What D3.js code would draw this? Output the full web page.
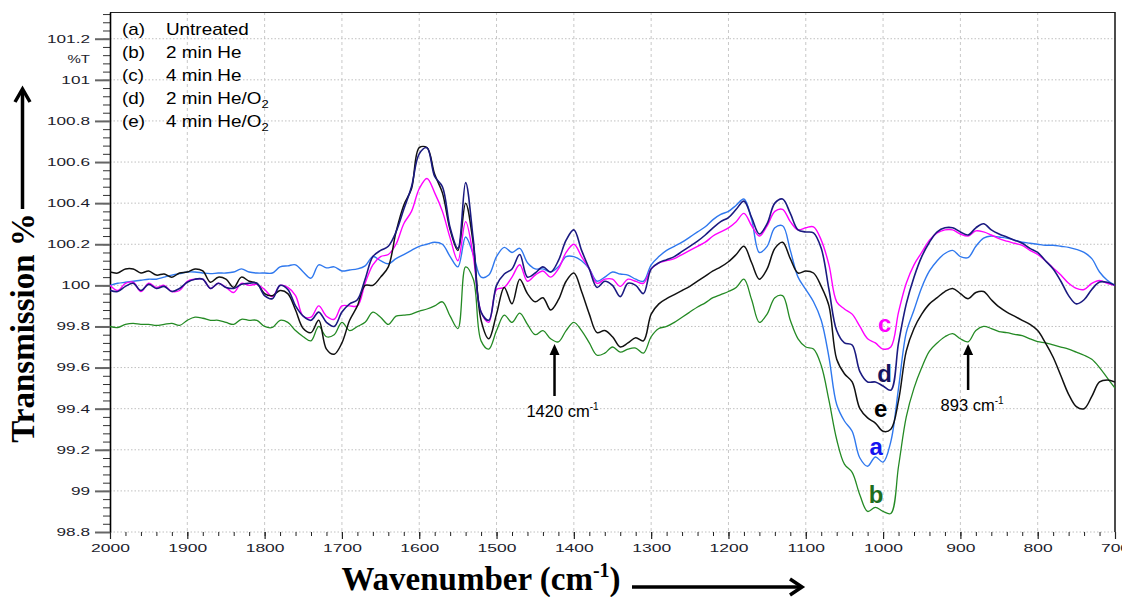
<!DOCTYPE html>
<html><head><meta charset="utf-8">
<script src="https://cdn.jsdelivr.net/npm/d3@7"></script>
<style>body{margin:0;background:#fff}svg{display:block}</style>
</head><body><svg id="c" width="1122" height="597"></svg>
<script>
// ---------- DATA ----------
const wavenumbers = [2000,1990,1980,1970,1960,1950,1940,1930,1920,1910,
1900,1890,1880,1870,1860,1850,1840,1830,1820,1810,
1800,1790,1780,1770,1760,1750,1740,1730,1720,1710,
1700,1690,1680,1670,1660,1650,1640,1630,1620,1610,
1600,1590,1580,1570,1560,1550,1540,1530,1520,1510,
1500,1490,1480,1470,1460,1450,1440,1430,1420,1410,
1400,1390,1380,1370,1360,1350,1340,1330,1320,1310,
1300,1290,1280,1270,1260,1250,1240,1230,1220,1210,
1200,1190,1180,1170,1160,1150,1140,1130,1120,1110,
1100,1090,1080,1070,1060,1050,1040,1030,1020,1010,
1000,990,980,970,960,950,940,930,920,910,
900,890,880,870,860,850,840,830,820,810,
800,790,780,770,760,750,740,730,720,710,700];

// (a) Untreated
const seriesA = [100.0,100.01,100.015,100.02,100.025,100.03,100.03,100.04,100.05,100.057,
100.065,100.065,100.06,100.057,100.06,100.06,100.065,100.08,100.065,100.06,
100.06,100.06,100.09,100.095,100.1,100.065,100.035,100.1,100.085,100.09,
100.07,100.075,100.08,100.095,100.14,100.12,100.105,100.13,100.15,100.17,
100.19,100.2,100.21,100.2,100.14,100.09,100.235,100.15,100.04,100.05,
100.14,100.185,100.16,100.18,100.11,100.08,100.08,100.065,100.09,100.14,
100.14,100.12,100.08,100.02,100.04,100.065,100.055,100.05,100.03,100.02,
100.1,100.14,100.17,100.19,100.21,100.235,100.26,100.285,100.32,100.345,
100.36,100.39,100.42,100.32,100.16,100.19,100.28,100.29,100.17,100.04,
99.98,99.92,99.83,99.65,99.42,99.34,99.29,99.16,99.12,99.165,
99.14,99.24,99.5,99.77,99.88,99.99,100.07,100.12,100.155,100.17,
100.14,100.135,100.19,100.23,100.24,100.235,100.23,100.22,100.21,100.205,
100.2,100.195,100.195,100.19,100.185,100.175,100.16,100.13,100.065,100.025,100.0];

// (b) 2 min He
const seriesB = [99.80,99.795,99.81,99.815,99.81,99.81,99.805,99.81,99.815,99.805,
99.83,99.845,99.84,99.83,99.83,99.82,99.81,99.835,99.83,99.83,
99.80,99.795,99.83,99.82,99.78,99.75,99.73,99.80,99.75,99.76,
99.82,99.78,99.80,99.82,99.87,99.845,99.81,99.85,99.855,99.86,
99.875,99.885,99.90,99.92,99.85,99.79,100.09,100.03,99.73,99.69,
99.78,99.855,99.82,99.865,99.81,99.76,99.78,99.74,99.725,99.78,
99.82,99.78,99.72,99.66,99.67,99.70,99.675,99.69,99.695,99.67,
99.75,99.79,99.80,99.82,99.845,99.87,99.895,99.915,99.94,99.955,
99.97,99.99,100.03,99.93,99.82,99.86,99.94,99.95,99.83,99.74,
99.70,99.69,99.61,99.44,99.25,99.13,99.09,98.98,98.90,98.92,
98.90,98.89,99.12,99.36,99.50,99.60,99.68,99.72,99.75,99.765,
99.74,99.725,99.78,99.80,99.79,99.775,99.77,99.762,99.755,99.74,
99.726,99.72,99.71,99.70,99.69,99.675,99.66,99.64,99.60,99.55,99.50];

// (c) 4 min He
const seriesC = [100.0,99.975,100.01,100.015,99.97,100.01,99.99,100.0,99.97,99.975,
100.02,100.03,100.03,99.985,100.01,99.99,99.965,100.01,100.0,100.005,
99.98,99.945,100.0,99.99,99.95,99.85,99.845,99.9,99.85,99.835,
99.9,99.9,99.9,100.01,100.1,100.14,100.15,100.2,100.3,100.36,
100.47,100.52,100.45,100.36,100.23,100.12,100.31,100.14,99.87,99.82,
99.98,99.99,100.04,100.1,100.02,100.05,100.07,100.04,100.08,100.16,
100.2,100.14,100.08,100.01,100.03,100.03,99.995,100.03,100.02,100.01,
100.08,100.11,100.12,100.13,100.15,100.17,100.19,100.21,100.24,100.26,
100.28,100.31,100.35,100.29,100.24,100.29,100.36,100.37,100.31,100.27,
100.28,100.285,100.22,100.1,99.92,99.885,99.86,99.8,99.74,99.72,
99.69,99.70,99.87,100.01,100.1,100.16,100.22,100.255,100.27,100.27,
100.25,100.24,100.265,100.26,100.245,100.227,100.215,100.205,100.195,100.17,
100.15,100.12,100.085,100.05,100.01,99.985,99.98,100.01,100.024,100.01,100.0];

// (d) 2 min He/O2
const seriesD = [99.976,99.97,99.995,100.01,99.975,100.005,99.985,99.995,99.97,99.985,
100.015,100.03,100.03,99.985,100.01,99.99,99.985,100.005,100.01,100.01,
99.95,99.935,100.0,99.98,99.9,99.85,99.83,99.87,99.82,99.80,
99.87,99.91,99.93,100.03,100.14,100.17,100.19,100.26,100.37,100.48,
100.64,100.67,100.53,100.48,100.28,100.18,100.5,100.22,99.87,99.83,
100.0,100.055,100.08,100.15,100.04,100.06,100.09,100.065,100.12,100.22,
100.27,100.17,100.08,99.99,100.02,100.0,99.945,100.01,100.0,99.96,
100.08,100.11,100.125,100.14,100.165,100.19,100.215,100.245,100.28,100.31,
100.33,100.37,100.41,100.33,100.25,100.3,100.4,100.42,100.35,100.27,
100.26,100.255,100.18,99.98,99.78,99.72,99.71,99.58,99.53,99.53,
99.51,99.49,99.72,99.91,100.04,100.14,100.21,100.26,100.28,100.28,
100.26,100.245,100.28,100.3,100.27,100.25,100.235,100.22,100.205,100.18,
100.16,100.12,100.08,100.02,99.95,99.91,99.93,99.98,100.016,100.015,100.0];

// (e) 4 min He/O2
const seriesE = [100.065,100.06,100.08,100.08,100.06,100.07,100.05,100.055,100.04,100.06,
100.065,100.08,100.07,100.015,100.04,100.03,99.99,100.04,100.02,100.01,
99.96,99.95,99.975,99.96,99.88,99.79,99.77,99.83,99.69,99.665,
99.72,99.83,99.9,100.0,100.0,100.04,100.09,100.26,100.39,100.47,
100.67,100.67,100.54,100.45,100.27,100.17,100.4,100.2,99.83,99.74,
99.86,99.99,99.91,100.03,99.96,99.92,99.94,99.88,99.93,100.02,
100.06,99.97,99.86,99.77,99.78,99.75,99.70,99.72,99.745,99.73,
99.86,99.91,99.935,99.955,99.975,99.995,100.02,100.045,100.07,100.09,
100.115,100.15,100.19,100.11,100.03,100.08,100.18,100.21,100.13,100.06,
100.07,100.06,99.995,99.90,99.64,99.57,99.53,99.40,99.355,99.33,
99.29,99.30,99.44,99.68,99.79,99.86,99.91,99.94,99.97,99.985,
99.96,99.935,99.965,99.97,99.93,99.895,99.87,99.85,99.83,99.81,
99.78,99.72,99.65,99.56,99.47,99.41,99.40,99.46,99.53,99.54,99.53];

const legendTags = ["(a)","(b)","(c)","(d)","(e)"];
const legendNames = ["Untreated","2 min He","4 min He","2 min He/O","4 min He/O"];
const legendSubs = ["","","","2","2"];

const yTickValues = [98.8,99,99.2,99.4,99.6,99.8,100,100.2,100.4,100.6,100.8,101,101.2];
const xTickValues = [2000,1900,1800,1700,1600,1500,1400,1300,1200,1100,1000,900,800,700];

// curve letter labels near the 1000 cm-1 band
const letterText = ["c","d","e","a","b"];
const letterWn = [998,998,1003,1009,1009];
const letterVal = [99.771,99.528,99.358,99.173,98.939];

// annotations
const annoWn = [1425,890];
const annoLabel = ["1420","893"];

// ---------- STYLE ----------
const colors = {a:"#2f78ee", b:"#248a24", c:"#ff00ff", d:"#1a1a80", e:"#111111"};
const widths = {a:1.4, b:1.3, c:1.4, d:1.6, e:1.5};
const letterColors = {a:"#1414f0", b:"#1e6e1e", c:"#ff00ff", d:"#14145e", e:"#000"};

const svg = d3.select("#c");
const L=110, R=1115, T=12, B=532;
const x = d3.scaleLinear().domain([2000,700]).range([L,R]);
const y = d3.scaleLinear().domain([98.8,101.33]).range([B,T]);

// grid
svg.append("g").selectAll("line").data(xTickValues.filter(d=>d!==2000&&d!==700)).join("line")
  .attr("x1",d=>x(d)).attr("x2",d=>x(d)).attr("y1",T).attr("y2",B)
  .attr("stroke","#c8c8c8").attr("stroke-width",1).attr("stroke-dasharray","3,3");
svg.append("g").selectAll("line").data(yTickValues).join("line")
  .attr("x1",L).attr("x2",R).attr("y1",d=>y(d)).attr("y2",d=>y(d))
  .attr("stroke","#c0c0c0").attr("stroke-width",1).attr("stroke-dasharray","1.5,2");

// frame top/right
svg.append("line").attr("x1",L).attr("x2",R).attr("y1",T+0.5).attr("y2",T+0.5).attr("stroke","#222").attr("stroke-width",1);
svg.append("line").attr("x1",R).attr("x2",R).attr("y1",T).attr("y2",B).attr("stroke","#111").attr("stroke-width",1.5);

// y axis minor
const yMinorValues = d3.range(0,64).map(i=>+(98.8+i*0.04).toFixed(2));
const yMinor = svg.append("g").attr("transform",`translate(${L},0)`)
  .call(d3.axisLeft(y).tickValues(yMinorValues).tickSize(7).tickSizeOuter(0).tickFormat(""));
yMinor.select(".domain").remove();
yMinor.selectAll("line").attr("stroke","#333");

const yAxis = svg.append("g").attr("transform",`translate(${L},0)`)
  .call(d3.axisLeft(y).tickValues(yTickValues).tickSize(15).tickSizeOuter(0).tickFormat(d=>d3.format("~f")(d)));
yAxis.select(".domain").attr("stroke","#000").attr("stroke-width",1.6);
yAxis.selectAll(".tick line").attr("stroke","#666").attr("stroke-width",2);
yAxis.selectAll("text").attr("x",0).attr("dy","0.34em")
  .attr("transform","translate(-20,0) scale(1.72,1)")
  .attr("font-family","'Liberation Sans', Arial, sans-serif").attr("font-size",10).attr("fill","#1c1c2c");
svg.append("text").attr("transform",`translate(${L-20},${y(101.1)}) scale(1.5,1)`)
  .attr("text-anchor","end").attr("dy","0.34em")
  .attr("font-family","'Liberation Sans', Arial, sans-serif").attr("font-size",10).attr("fill","#1c1c2c").text("%T");

// x axis
const xMinorValues = d3.range(700,2001,20);
const xMinor = svg.append("g").attr("transform",`translate(0,${B})`)
  .call(d3.axisBottom(x).tickValues(xMinorValues).tickSize(4).tickSizeOuter(0).tickFormat(""));
xMinor.select(".domain").remove();
xMinor.selectAll("line").attr("stroke","#222");
const xAxis = svg.append("g").attr("transform",`translate(0,${B})`)
  .call(d3.axisBottom(x).tickValues(xTickValues).tickSize(7).tickSizeOuter(0).tickFormat(d3.format("d")));
xAxis.select(".domain").remove();
xAxis.selectAll(".tick line").attr("stroke","#222").attr("stroke-width",1.2);
xAxis.selectAll("text").attr("y",13).attr("dy","0.71em").attr("transform","scale(1.75,1)")
  .attr("font-family","'Liberation Sans', Arial, sans-serif").attr("font-size",10).attr("fill","#1c1c2c");

// curves
svg.append("defs").append("clipPath").attr("id","clip").append("rect")
  .attr("x",L).attr("y",T).attr("width",R-L).attr("height",B-T);
const table = {a:seriesA,b:seriesB,c:seriesC,d:seriesD,e:seriesE};
const line = d3.line().x(d=>x(d[0])).y(d=>y(d[1])).curve(d3.curveCatmullRom.alpha(0.5));
const gCurves = svg.append("g").attr("clip-path","url(#clip)");
["a","c","b","e","d"].forEach(k=>{
  gCurves.append("path").datum(wavenumbers.map((w,i)=>[w,table[k][i]]))
    .attr("d",line).attr("fill","none").attr("stroke",colors[k]).attr("stroke-width",widths[k])
    .attr("stroke-linejoin","round");
});

// letters
svg.append("g").selectAll("text").data(letterText).join("text")
  .attr("x",(d,i)=>x(letterWn[i])).attr("y",(d,i)=>y(letterVal[i]))
  .attr("text-anchor","middle").attr("font-family","'Liberation Sans', Arial, sans-serif")
  .attr("font-weight","bold").attr("font-size",24).attr("fill",d=>letterColors[d]).text(d=>d);

// legend
const leg = svg.append("g");
legendTags.forEach((t,i)=>{
  const g = leg.append("g").attr("transform",`translate(122,${35+i*23.1}) scale(1.18,1)`)
    .attr("font-family","'Liberation Sans', Arial, sans-serif").attr("font-size",16).attr("fill","#000");
  g.append("text").attr("x",0).attr("y",0).text(t);
  const tx = g.append("text").attr("x",(166-122)/1.18).attr("y",0).text(legendNames[i]);
  if(legendSubs[i]) tx.append("tspan").attr("font-size",11).attr("dy",4).text(legendSubs[i]);
});

// annotations
annoWn.forEach((w,i)=>{
  const ax = x(w);
  const base = i===0 ? 396 : 390;
  svg.append("line").attr("x1",ax).attr("x2",ax).attr("y1",base).attr("y2",352)
    .attr("stroke","#000").attr("stroke-width",2.5);
  const tipY = 344;
  svg.append("path").attr("d",`M${ax-5},${tipY+11}L${ax},${tipY}L${ax+5},${tipY+11}Z`).attr("fill","#000");
  const t = svg.append("text").attr("x",ax+(i===0?8:4)).attr("y",i===0?417:411).attr("text-anchor","middle")
    .attr("font-family","'Liberation Sans', Arial, sans-serif").attr("font-size",16.5).attr("fill","#000");
  t.append("tspan").text(annoLabel[i]+" cm");
  t.append("tspan").attr("font-size",10).attr("dy",-7).text("-1");
});

// axis titles
svg.append("text").attr("transform","translate(34,328) rotate(-90)")
  .attr("text-anchor","middle").attr("font-family","'Liberation Serif','Times New Roman',serif")
  .attr("font-weight","bold").attr("font-size",33).attr("fill","#000").text("Transmission %");
const xt = svg.append("text").attr("x",481).attr("y",590).attr("text-anchor","middle")
  .attr("font-family","'Liberation Serif','Times New Roman',serif")
  .attr("font-weight","bold").attr("font-size",33).attr("fill","#000");
xt.append("tspan").text("Wavenumber (cm");
xt.append("tspan").attr("font-size",20).attr("dy",-13).text("-1");
xt.append("tspan").attr("dy",13).text(")");

// arrows
svg.append("line").attr("x1",22.5).attr("x2",22.5).attr("y1",209).attr("y2",91).attr("stroke","#000").attr("stroke-width",3.5);
svg.append("path").attr("d","M15,102L22.5,89L30,102").attr("fill","none").attr("stroke","#000").attr("stroke-width",3.5).attr("stroke-linejoin","miter");
svg.append("line").attr("x1",632).attr("x2",799).attr("y1",587).attr("y2",587).attr("stroke","#000").attr("stroke-width",3.5);
svg.append("path").attr("d","M790,579L802,587L790,595").attr("fill","none").attr("stroke","#000").attr("stroke-width",3.5);
</script></body></html>
